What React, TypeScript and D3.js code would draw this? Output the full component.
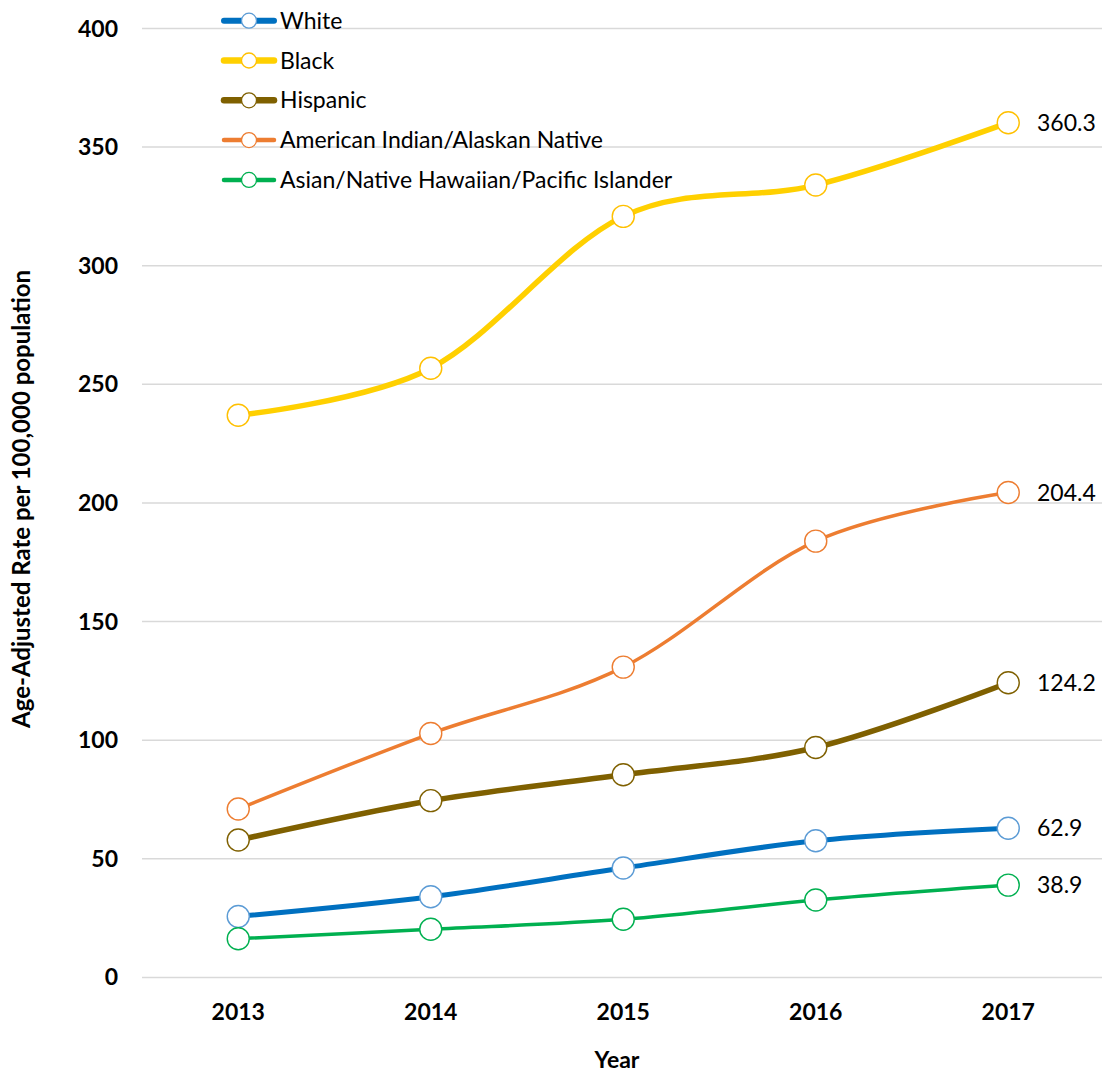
import React from "react";
import * as d3 from "d3";

const years = ["2013", "2014", "2015", "2016", "2017"];
const white = [25.7, 34.0, 46.1, 57.6, 62.9];
const black = [237.0, 256.8, 320.8, 334.0, 360.3];
const hispanic = [57.9, 74.5, 85.4, 96.9, 124.2];
const aian = [71.0, 102.8, 130.8, 183.9, 204.4];
const asian = [16.3, 20.3, 24.5, 32.6, 38.9];
const yTicks = [0, 50, 100, 150, 200, 250, 300, 350, 400];

const seriesNames = [
  "White",
  "Black",
  "Hispanic",
  "American Indian/Alaskan Native",
  "Asian/Native Hawaiian/Pacific Islander",
];
const seriesValues = [white, black, hispanic, aian, asian];
const lineColors = ["#0070C0", "#FFD000", "#7F6000", "#ED7D31", "#00B050"];
const markerColors = ["#5B9BD5", "#FFC000", "#7F6000", "#ED7D31", "#00B050"];
const lineWidths = [5, 5.5, 5.5, 3.5, 3.5];

const FONT = "Lato, 'Liberation Sans', sans-serif";

export default function App() {
  const W = 1102;
  const H = 1076;
  const x = d3.scaleBand<string>().domain(years).range([142, 1104.5]);
  const y = d3.scaleLinear().domain([0, 400]).range([977.4, 28.5]);
  const cx = (yr: string) => (x(yr) as number) + x.bandwidth() / 2;

  const line = d3
    .line<number>()
    .x((_, i) => cx(years[i]))
    .y((v) => y(v))
    .curve(d3.curveCatmullRom.alpha(0));

  return (
    <svg
      width={W}
      height={H}
      style={{ position: "absolute", left: 0, top: 0, background: "#fff" }}
      fontFamily={FONT}
    >
      {/* gridlines */}
      {yTicks.map((t) => (
        <line
          key={t}
          x1={142}
          x2={W}
          y1={y(t)}
          y2={y(t)}
          stroke="#D9D9D9"
          strokeWidth={1.5}
        />
      ))}
      {/* y tick labels */}
      {yTicks.map((t) => (
        <text
          key={"yt" + t}
          x={118}
          y={y(t)}
          dy="0.35em"
          textAnchor="end"
          fontWeight="bold"
          fontSize={23}
          fill="#000"
        >
          {t}
        </text>
      ))}
      {/* x tick labels */}
      {years.map((yr) => (
        <text
          key={"xt" + yr}
          x={cx(yr)}
          y={1020}
          textAnchor="middle"
          fontWeight="bold"
          fontSize={23}
          fill="#000"
        >
          {yr}
        </text>
      ))}
      {/* axis titles */}
      <text
        x={617}
        y={1068}
        textAnchor="middle"
        fontWeight="bold"
        fontSize={23}
        fill="#000"
      >
        Year
      </text>
      <text
        transform={`translate(30,499) rotate(-90)`}
        textAnchor="middle"
        fontWeight="bold"
        fontSize={24}
        fill="#000"
      >
        Age-Adjusted Rate per 100,000 population
      </text>
      {/* series lines */}
      {seriesValues.map((vals, si) => (
        <path
          key={"l" + si}
          d={line(vals) || ""}
          fill="none"
          stroke={lineColors[si]}
          strokeWidth={lineWidths[si]}
          strokeLinecap="round"
        />
      ))}
      {/* markers */}
      {seriesValues.map((vals, si) =>
        vals.map((v, i) => (
          <circle
            key={"m" + si + "-" + i}
            cx={cx(years[i])}
            cy={y(v)}
            r={11}
            fill="#fff"
            stroke={markerColors[si]}
            strokeWidth={1.4}
          />
        ))
      )}
      {/* end data labels */}
      {seriesValues.map((vals, si) => (
        <text
          key={"dl" + si}
          x={1037}
          y={y(vals[vals.length - 1])}
          dy="0.35em"
          fontSize={23}
          fill="#000"
        >
          {vals[vals.length - 1].toFixed(1)}
        </text>
      ))}
      {/* legend */}
      {seriesNames.map((name, si) => {
        const ly = 20.7 + si * 39.8;
        return (
          <g key={"lg" + si}>
            <line
              x1={224}
              x2={274}
              y1={ly}
              y2={ly}
              stroke={lineColors[si]}
              strokeWidth={lineWidths[si] + 1}
              strokeLinecap="round"
            />
            <circle
              cx={249}
              cy={ly}
              r={7.5}
              fill="#fff"
              stroke={markerColors[si]}
              strokeWidth={1.3}
            />
            <text x={280} y={ly} dy="0.35em" fontSize={23} fill="#000">
              {name}
            </text>
          </g>
        );
      })}
    </svg>
  );
}
